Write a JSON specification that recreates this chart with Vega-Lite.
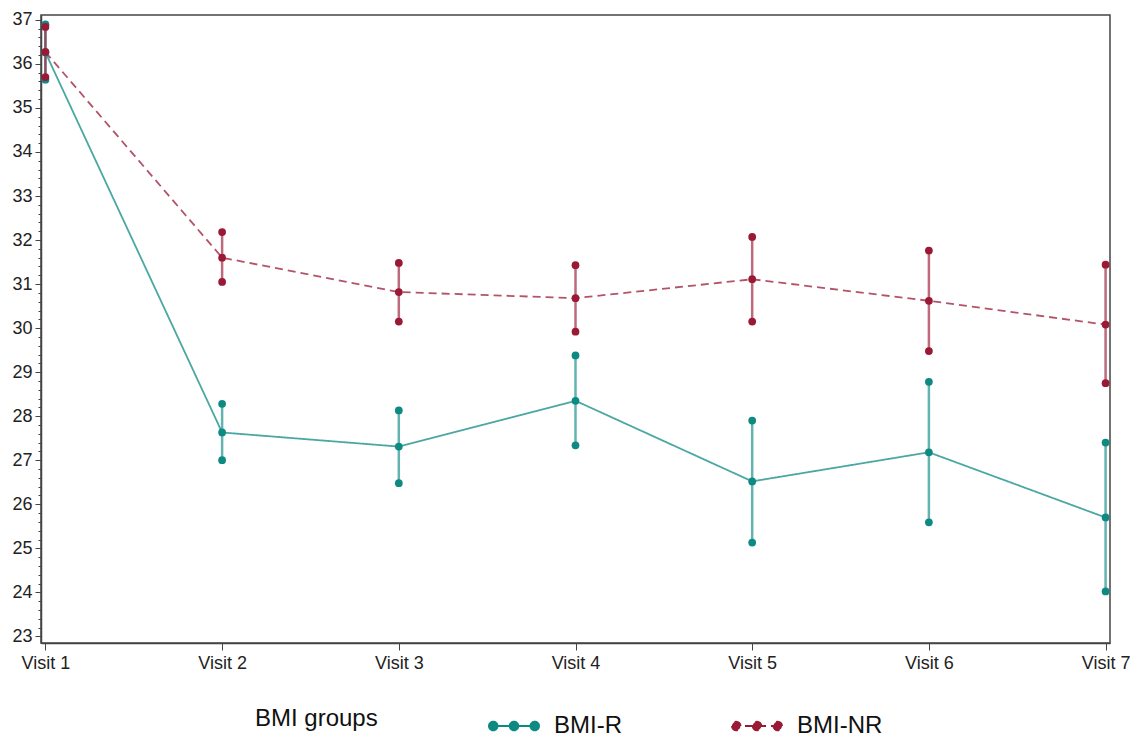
{
  "$schema": "https://vega.github.io/schema/vega-lite/v6.json",
  "width": 1069,
  "height": 628,
  "autosize": {"type": "none"},
  "padding": {"left": 41, "top": 15, "right": 25, "bottom": 94},
  "background": "white",
  "config": {
    "font": "Liberation Sans",
    "view": {"stroke": "#444", "strokeWidth": 1.5},
    "axis": {"labelFont": "Liberation Sans", "labelColor": "#222", "domainColor": "#444", "tickColor": "#444", "grid": false, "title": null}
  },
  "data": {
    "values": [
      {"visit": "Visit 1", "group": "BMI-R", "mean": 36.26, "lower": 35.64, "upper": 36.9},
      {"visit": "Visit 2", "group": "BMI-R", "mean": 27.63, "lower": 27.0, "upper": 28.28},
      {"visit": "Visit 3", "group": "BMI-R", "mean": 27.31, "lower": 26.48, "upper": 28.13},
      {"visit": "Visit 4", "group": "BMI-R", "mean": 28.35, "lower": 27.34, "upper": 29.38},
      {"visit": "Visit 5", "group": "BMI-R", "mean": 26.52, "lower": 25.13, "upper": 27.9},
      {"visit": "Visit 6", "group": "BMI-R", "mean": 27.18, "lower": 25.59, "upper": 28.78},
      {"visit": "Visit 7", "group": "BMI-R", "mean": 25.7, "lower": 24.02, "upper": 27.4},
      {"visit": "Visit 1", "group": "BMI-NR", "mean": 36.27, "lower": 35.7, "upper": 36.84},
      {"visit": "Visit 2", "group": "BMI-NR", "mean": 31.6, "lower": 31.05, "upper": 32.18},
      {"visit": "Visit 3", "group": "BMI-NR", "mean": 30.82, "lower": 30.15, "upper": 31.48},
      {"visit": "Visit 4", "group": "BMI-NR", "mean": 30.68, "lower": 29.92, "upper": 31.43},
      {"visit": "Visit 5", "group": "BMI-NR", "mean": 31.11, "lower": 30.15, "upper": 32.07},
      {"visit": "Visit 6", "group": "BMI-NR", "mean": 30.62, "lower": 29.48, "upper": 31.76},
      {"visit": "Visit 7", "group": "BMI-NR", "mean": 30.08, "lower": 28.75, "upper": 31.44}
    ]
  },
  "encoding": {
    "x": {
      "field": "visit", "type": "ordinal",
      "sort": ["Visit 1", "Visit 2", "Visit 3", "Visit 4", "Visit 5", "Visit 6", "Visit 7"],
      "scale": {"type": "point", "padding": 0.025},
      "axis": {"labelAngle": 0, "labelFontSize": 18, "tickSize": 7, "labelPadding": 4, "domainWidth": 1.5}
    },
    "color": {
      "field": "group", "type": "nominal",
      "scale": {"domain": ["BMI-R", "BMI-NR"], "range": ["#0f8a83", "#9a1a36"]},
      "legend": {
        "title": "BMI groups",
        "orient": "none",
        "legendX": 214,
        "legendY": 685,
        "direction": "horizontal",
        "titleOrient": "left",
        "titleBaseline": "middle",
        "titleFontSize": 24,
        "titleFontWeight": "normal",
        "titleColor": "#111",
        "titlePadding": 110,
        "labelFontSize": 24,
        "labelColor": "#111",
        "labelOffset": 14,
        "columnPadding": 106,
        "symbolType": "M-1,0 L1,0 M-1,0 a0.17,0.17 0 1,0 0.34,0 a0.17,0.17 0 1,0 -0.34,0 M-0.17,0 a0.17,0.17 0 1,0 0.34,0 a0.17,0.17 0 1,0 -0.34,0 M0.66,0 a0.17,0.17 0 1,0 0.34,0 a0.17,0.17 0 1,0 -0.34,0",
        "symbolSize": 2500,
        "symbolStrokeWidth": 2,
        "symbolOpacity": 1,
        "encode": {"symbols": {"update": {"fill": {"scale": "color", "field": "value"}, "stroke": {"scale": "color", "field": "value"}, "opacity": {"value": 1}, "strokeOpacity": {"value": 1}, "fillOpacity": {"value": 1}}}}
      }
    }
  },
  "layer": [
    {
      "mark": {"type": "rule", "strokeWidth": 2.5, "opacity": 0.65},
      "encoding": {
        "y": {
          "field": "lower", "type": "quantitative",
          "scale": {"domain": [22.85, 37.11], "zero": false, "nice": false},
          "axis": {
            "values": [23, 23.2, 23.4, 23.6, 23.8, 24, 24.2, 24.4, 24.6, 24.8, 25, 25.2, 25.4, 25.6, 25.8, 26, 26.2, 26.4, 26.6, 26.8, 27, 27.2, 27.4, 27.6, 27.8, 28, 28.2, 28.4, 28.6, 28.8, 29, 29.2, 29.4, 29.6, 29.8, 30, 30.2, 30.4, 30.6, 30.8, 31, 31.2, 31.4, 31.6, 31.8, 32, 32.2, 32.4, 32.6, 32.8, 33, 33.2, 33.4, 33.6, 33.8, 34, 34.2, 34.4, 34.6, 34.8, 35, 35.2, 35.4, 35.6, 35.8, 36, 36.2, 36.4, 36.6, 36.8, 37],
            "tickCount": 500,
            "labelExpr": "abs(datum.value - round(datum.value)) < 0.01 ? format(round(datum.value), 'd') : ''",
            "labelOverlap": false,
            "labelFlush": false,
            "tickSize": {"condition": {"test": "abs(datum.value - round(datum.value)) < 0.01", "value": 6}, "value": 3},
            "labelFontSize": 18,
            "labelPadding": 3,
            "domainWidth": 1.5
          }
        },
        "y2": {"field": "upper"}
      }
    },
    {
      "mark": {"type": "line", "strokeWidth": 1.8, "opacity": 0.75},
      "encoding": {
        "y": {"field": "mean", "type": "quantitative"},
        "strokeDash": {
          "field": "group", "type": "nominal",
          "scale": {"domain": ["BMI-R", "BMI-NR"], "range": [[1, 0], [8, 5]]},
          "legend": null
        }
      }
    },
    {
      "mark": {"type": "point", "filled": true, "opacity": 1, "size": 60},
      "encoding": {"y": {"field": "mean", "type": "quantitative"}}
    },
    {
      "mark": {"type": "point", "filled": true, "opacity": 1, "size": 60},
      "encoding": {"y": {"field": "lower", "type": "quantitative"}}
    },
    {
      "mark": {"type": "point", "filled": true, "opacity": 1, "size": 60},
      "encoding": {"y": {"field": "upper", "type": "quantitative"}}
    }
  ]
}
